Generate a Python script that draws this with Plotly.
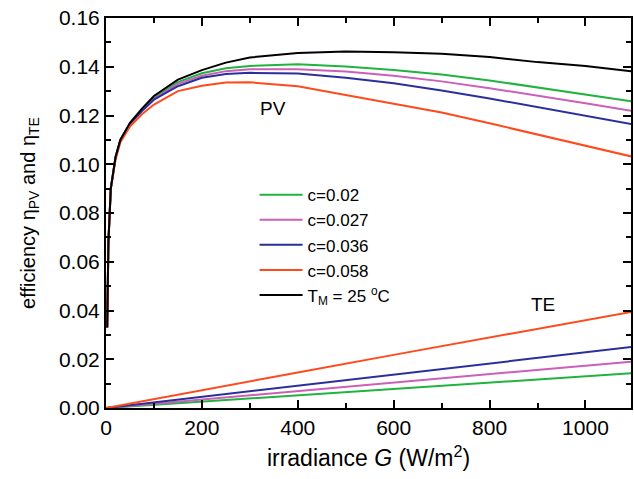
import plotly.graph_objects as go

# ---- data ----
G_pv = [2.5, 5, 10, 20, 30, 50, 75, 100, 150, 200, 250, 300, 400, 500, 600, 700, 800, 900, 1000, 1100]
pv_black = [0.033, 0.068, 0.090, 0.103, 0.110, 0.117, 0.1228, 0.128, 0.1347, 0.1386, 0.1417, 0.1438,
            0.1456, 0.1463, 0.1460, 0.1453, 0.1440, 0.1419, 0.1403, 0.1380]
pv_green = [0.033, 0.068, 0.090, 0.103, 0.110, 0.1168, 0.1222, 0.1272, 0.1337, 0.1373, 0.1394, 0.1403,
            0.1410, 0.1401, 0.1387, 0.1368, 0.1344, 0.1316, 0.1287, 0.1257]
pv_pink = [0.033, 0.068, 0.090, 0.103, 0.110, 0.1167, 0.1220, 0.1268, 0.1330, 0.1363, 0.1382, 0.1390,
           0.1390, 0.1381, 0.1363, 0.1340, 0.1312, 0.1282, 0.1250, 0.1218]
pv_blue = [0.033, 0.068, 0.090, 0.103, 0.110, 0.1166, 0.1218, 0.1265, 0.1320, 0.1355, 0.1370, 0.1375,
           0.1372, 0.1355, 0.1332, 0.1303, 0.1270, 0.1235, 0.1199, 0.1163]
pv_orange = [0.033, 0.068, 0.090, 0.102, 0.109, 0.1155, 0.1205, 0.1245, 0.1300, 0.1322, 0.1335, 0.1336,
             0.1320, 0.1285, 0.1250, 0.1212, 0.1168, 0.1122, 0.1076, 0.1030]

G_te = [0, 200, 400, 600, 800, 1000, 1100]
te_green = [0.0, 0.0026, 0.0052, 0.0078, 0.0104, 0.0130, 0.0143]
te_pink = [0.0, 0.0035, 0.0070, 0.0105, 0.0140, 0.0174, 0.0191]
te_blue = [0.0, 0.0046, 0.0092, 0.0138, 0.0183, 0.0228, 0.0251]
te_orange = [0.0, 0.0074, 0.0146, 0.0218, 0.0290, 0.0360, 0.0396]

labels = ["c=0.02", "c=0.027", "c=0.036", "c=0.058"]
black_label = "T<sub>M</sub> = 25 <sup>o</sup>C"
colors = ["#22b33f", "#cc5fb8", "#2a2f9c", "#ff4a1c"]

FONT = "Liberation Sans, Arial, sans-serif"

fig = go.Figure()
for lab, col, pv, te in zip(labels, colors,
                            [pv_green, pv_pink, pv_blue, pv_orange],
                            [te_green, te_pink, te_blue, te_orange]):
    fig.add_trace(go.Scatter(x=G_pv, y=pv, mode="lines", name=lab,
                             line=dict(color=col, width=2), legendgroup=lab))
    fig.add_trace(go.Scatter(x=G_te, y=te, mode="lines", name=lab, showlegend=False,
                             line=dict(color=col, width=2), legendgroup=lab))
fig.add_trace(go.Scatter(x=G_pv, y=pv_black, mode="lines", name=black_label,
                         line=dict(color="black", width=2)))

axis_common = dict(
    showline=True, linecolor="black", linewidth=2, mirror="ticks",
    ticks="inside", ticklen=8, tickwidth=1.5, tickcolor="black",
    showgrid=False, zeroline=False,
    tickfont=dict(family=FONT, size=21, color="black"),
)

fig.update_xaxes(range=[0, 1095], dtick=200, tick0=0,
                 minor=dict(dtick=100, ticks="inside", ticklen=5, tickwidth=1.5, tickcolor="black"),
                 title=dict(text="irradiance <i>G</i> (W/m<sup>2</sup>)",
                            font=dict(family=FONT, size=23, color="black"), standoff=12),
                 **axis_common)
fig.update_yaxes(range=[0, 0.16], dtick=0.02, tick0=0, tickformat=".2f",
                 minor=dict(dtick=0.01, ticks="inside", ticklen=5, tickwidth=1.5, tickcolor="black"),
                 title=dict(text="efficiency η<sub>PV</sub> and η<sub>TE</sub>",
                            font=dict(family=FONT, size=20, color="black"), standoff=18),
                 **axis_common)

fig.add_annotation(x=349, y=0.1227, text="PV", showarrow=False,
                   font=dict(family=FONT, size=19, color="black"))
fig.add_annotation(x=912, y=0.0425, text="TE", showarrow=False,
                   font=dict(family=FONT, size=19, color="black"))

fig.update_layout(
    width=634, height=479,
    margin=dict(l=106, r=1, t=18, b=71),
    plot_bgcolor="white", paper_bgcolor="white",
    showlegend=True,
    legend=dict(x=0.283, y=0.592, xanchor="left", yanchor="top",
                bgcolor="rgba(0,0,0,0)", borderwidth=0,
                font=dict(family=FONT, size=17, color="black"),
                itemwidth=43, tracegroupgap=0),
)

fig.write_html("out.html", config={"displayModeBar": False},
               post_script="document.body.style.margin='0px';")
